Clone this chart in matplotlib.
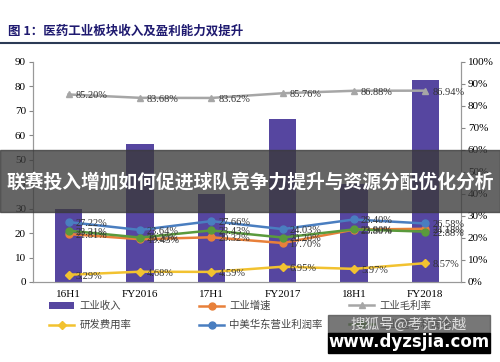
import matplotlib.pyplot as plt
import matplotlib.patches as mpatches
import numpy as np

plt.rcParams['font.family'] = ['Liberation Serif', 'Noto Sans CJK SC', 'DejaVu Sans']

periods = ['16H1', 'FY2016', '17H1', 'FY2017', '18H1', 'FY2018']
revenue = [29.8, 56.6, 36.0, 66.5, 40.0, 82.5]          # 工业收入 (left axis)
growth = [21.81, 19.43, 20.32, 17.70, 23.80, 24.18]      # 工业增速 %
gross = [85.20, 83.68, 83.62, 85.76, 86.88, 86.94]       # 工业毛利率 %
rd = [3.29, 4.68, 4.59, 6.95, 5.97, 8.57]                # 研发费用率 %
op_margin = [27.22, 23.64, 27.66, 24.03, 28.40, 26.58]   # 中美华东营业利润率 %
other = [23.31, 20.20, 23.43, 20.20, 23.90, 22.88]       # hidden legend series %

fig = plt.figure(figsize=(5, 3.62), dpi=100)
ax = fig.add_axes([0.066, 0.221, 0.856, 0.608])
ax2 = ax.twinx()

x = np.arange(len(periods))
bars = ax.bar(x, revenue, width=0.38, color='#5646a0', zorder=1, label='工业收入')
ax.set_xlim(-0.5, 5.5)
ax.set_ylim(0, 90)
ax.set_yticks(range(0, 91, 10))
ax.set_xticks(x)
ax.set_xticklabels(periods, fontsize=8)
ax.tick_params(axis='x', length=0, pad=6)
ax.tick_params(axis='y', labelsize=8, length=3, color='#888888', pad=2)

ax2.set_ylim(0, 100)
ax2.set_yticks(range(0, 101, 10))
ax2.set_yticklabels(['%d%%' % v for v in range(0, 101, 10)], fontsize=8)
ax2.tick_params(axis='y', length=3, color='#888888', pad=2)

for a in (ax, ax2):
    a.spines['top'].set_visible(False)
    for s in ('left', 'right', 'bottom'):
        a.spines[s].set_color('#999999')

series = [
    (growth, '#E8803A', 'o', '工业增速'),
    (gross, '#A6A6A6', '^', '工业毛利率'),
    (rd, '#F2C230', 'D', '研发费用率'),
    (op_margin, '#4A7EC0', 'o', '中美华东营业利润率'),
    (other, '#5A9A3C', 'o', '工业营业利润率'),
]
h = {'工业收入': bars}
for vals, col, mk, lab in series:
    ms = 4 if mk == 'D' else 5
    ln, = ax2.plot(x, vals, color=col, marker=mk, markersize=ms, lw=1.8, label=lab, zorder=3)
    h[lab] = ln
    for xi, v in zip(x, vals):
        ax2.annotate('%.2f%%' % v, (xi, v), xytext=(5, -1), textcoords='offset points',
                     fontsize=7.5, va='center', ha='left', color='#333333', zorder=4)

# legend: three columns of two rows
cols = [(['工业收入', '研发费用率'], 0.088),
        (['工业增速', '中美华东营业利润率'], 0.388),
        (['工业毛利率', '工业营业利润率'], 0.688)]
for labs, x0 in cols:
    lg = fig.legend([h[l] for l in labs], labs, loc='upper left', bbox_to_anchor=(x0, 0.183),
                    frameon=False, handlelength=2.4, handletextpad=0.5, labelspacing=0.85,
                    borderpad=0, prop={'family': ['Noto Sans CJK SC'], 'size': 7.5})
    for t in lg.get_texts():
        t.set_color('#444444')

# title
fig.text(0.016, 0.915, '图 1：医药工业板块收入及盈利能力双提升', fontsize=9, fontweight='bold',
         color='#1f1a70', family=['Noto Sans CJK SC'], va='center')
fig.add_artist(plt.Line2D([0, 1], [0.88, 0.88], color='#2b3a55', lw=1.5))

# overlay banner
fig.add_artist(mpatches.Rectangle((0, 1 - 212 / 362), 1, 62 / 362, transform=fig.transFigure,
                                  color='#3a3a3a', alpha=0.78, zorder=10))
fig.text(0.5, 1 - 182 / 362, '联赛投入增加如何促进球队竞争力提升与资源分配优化分析', fontsize=13.5,
         fontweight='bold', color='white', ha='center', va='center',
         family=['Noto Sans CJK SC'], zorder=11)

# watermark
fig.add_artist(mpatches.Rectangle((328 / 500, 1 - 333 / 362), 162 / 500, 18 / 362,
                                  transform=fig.transFigure, color='#555555', alpha=0.8, zorder=10))
fig.add_artist(mpatches.Rectangle((328 / 500, 1 - 353 / 362), 162 / 500, 20 / 362,
                                  transform=fig.transFigure, color='black', zorder=10))
fig.text(409 / 500, 1 - 324 / 362, '搜狐号@考范论越', fontsize=10.5, color='#dddddd',
         ha='center', va='center', family=['Noto Sans CJK SC'], zorder=11)
fig.text(409 / 500, 1 - 342 / 362, 'www.dyzsjia.com', fontsize=12, fontweight='bold',
         color='white', ha='center', va='center', family=['DejaVu Sans'], zorder=11)

fig.savefig('out.png', dpi=100)
